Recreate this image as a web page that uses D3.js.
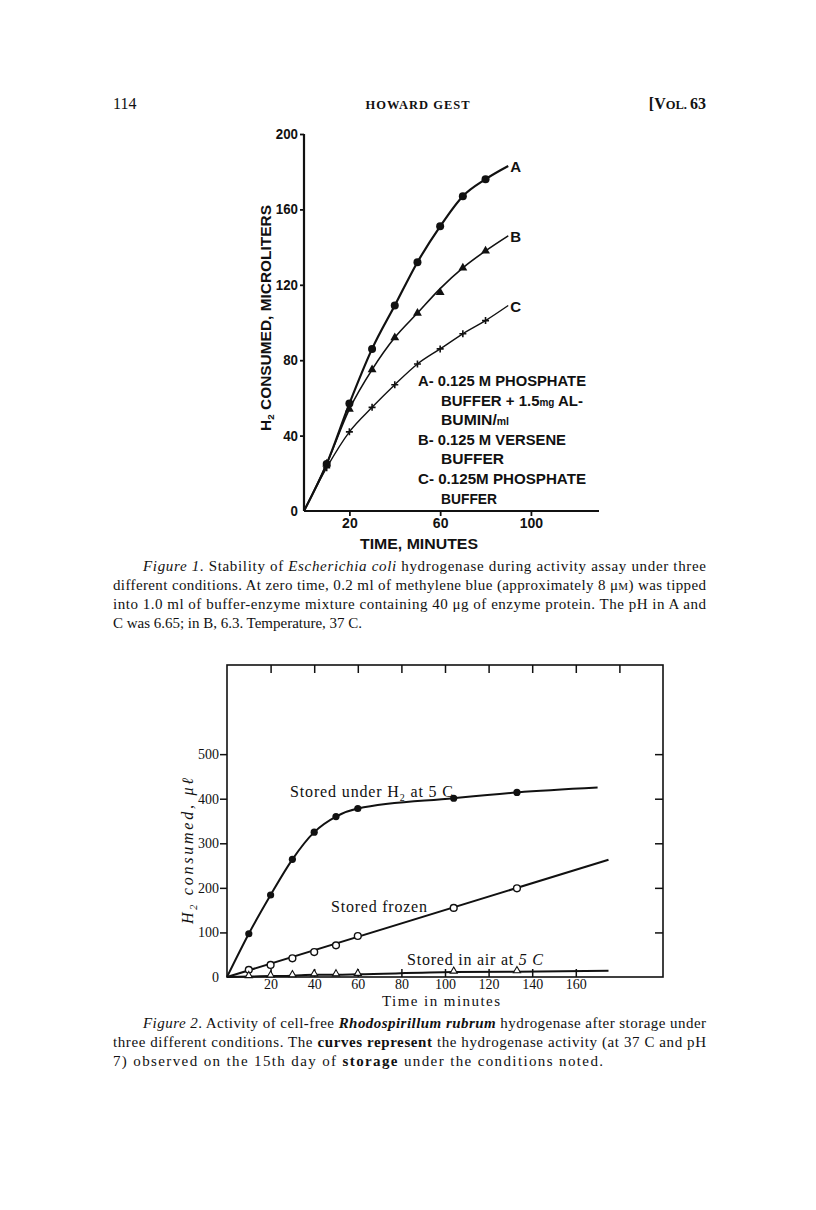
<!DOCTYPE html>
<html><head><meta charset="utf-8">
<script src="https://cdn.jsdelivr.net/npm/d3@7"></script>
<style>body{margin:0;background:#fff} svg{display:block}</style>
</head><body><svg id="c" width="816" height="1210"></svg>
<script>
// ---------- Figure 1 data ----------
const fig1Times = [10, 20, 30, 40, 50, 60, 70, 80];
const seriesA = [25, 57, 86, 109, 132, 151, 167, 176];
const seriesB = [25, 54, 75, 92, 105, 116, 129, 138];
const seriesC = [23, 42, 55, 67, 78, 86, 94, 101];
// hand-drawn curves (origin, through the points, to the letter label)
const curveTimes1 = [0, 10, 20, 30, 40, 50, 60, 70, 80, 90];
const curveA = [0, 25, 57, 86, 109, 132, 151, 167, 176, 183];
const curveB = [0, 25, 54, 75, 92, 105, 118, 129, 138, 146];
const curveC = [0, 23, 42, 55, 67, 78, 86, 94, 101, 109];
const fig1YTicks = [0, 40, 80, 120, 160, 200];
const fig1XTicks = [20, 60, 100];
const fig1Legend = [
  ["A- 0.125 M  PHOSPHATE"],
  ["BUFFER + 1.5", "mg", " AL-"],
  ["BUMIN/", "ml"],
  ["B- 0.125 M  VERSENE"],
  ["BUFFER"],
  ["C- 0.125M  PHOSPHATE"],
  ["BUFFER"]
];

// ---------- Figure 2 data ----------
const fig2Times = [10, 20, 30, 40, 50, 60, 104, 133];
const storedH2 = [97, 184, 264, 325, 360, 378, 401, 414];
const storedFrozen = [16, 27, 42, 56, 71, 92, 155, 199];
const storedAir = [1, 2, 3, 5, 5, 6, 11, 12];
const h2CurveTimes = [0, 10, 20, 30, 40, 50, 60, 104, 133, 170];
const h2CurveValues = [0, 97, 184, 264, 325, 360, 378, 401, 414, 425];
const frozenLineTimes = [0, 175];
const frozenLineValues = [0, 263];
const airCurveTimes = [0, 10, 20, 30, 40, 50, 60, 104, 133, 175];
const airCurveValues = [0, 1, 2, 3, 5, 5, 6, 11, 12, 14];
const fig2XTicks = [20, 40, 60, 80, 100, 120, 140, 160];
const fig2TopTicks = [20, 40, 60, 80, 100, 120, 140, 160, 180];
const fig2YTicks = [0, 100, 200, 300, 400, 500];

const svg = d3.select("#c");
const INK = "#111";
const SERIF = "'Liberation Serif', 'DejaVu Serif', serif";
const SANS = "'Liberation Sans', Arial, sans-serif";

// ---------- Page header ----------
svg.append("text").attr("x", 113).attr("y", 109).attr("font-family", SERIF)
  .attr("font-size", 16).attr("fill", INK).text("114");
svg.append("text").attr("x", 418).attr("y", 109).attr("text-anchor", "middle")
  .attr("font-family", SERIF).attr("font-size", 12.5).attr("font-weight", "bold")
  .attr("letter-spacing", 1).attr("fill", INK).text("HOWARD GEST");
const vol = svg.append("text").attr("x", 706).attr("y", 109).attr("text-anchor", "end")
  .attr("font-family", SERIF).attr("font-weight", "bold").attr("fill", INK);
vol.append("tspan").attr("font-size", 16).text("[V");
vol.append("tspan").attr("font-size", 12.5).text("OL. ");
vol.append("tspan").attr("font-size", 16).text("63");

// ---------- Figure 1 ----------
const x1 = d3.scaleLinear().domain([0, 130]).range([304, 599]);
const y1 = d3.scaleLinear().domain([0, 200]).range([511, 134]);
const g1 = svg.append("g");

const yAx1 = d3.axisLeft(y1).tickValues(fig1YTicks).tickSize(4).tickPadding(2).tickFormat(d3.format("d"));
const gy1 = g1.append("g").attr("transform", `translate(${x1(0)},0)`).call(yAx1);
const xAx1 = d3.axisBottom(x1).tickValues(fig1XTicks).tickSize(5).tickPadding(2).tickFormat(d3.format("d"));
const gx1 = g1.append("g").attr("transform", `translate(0,${y1(0)})`).call(xAx1);
[gy1, gx1].forEach(g => {
  g.select(".domain").attr("stroke", INK).attr("stroke-width", 2.2);
  g.selectAll(".tick line").attr("stroke", INK).attr("stroke-width", 1.8);
  g.selectAll(".tick text").attr("font-family", SANS).attr("font-weight", "bold")
    .attr("font-size", 14).attr("fill", INK);
});
gy1.selectAll(".tick text").attr("textLength", function(d) { return String(d).length * 7.4; })
  .attr("lengthAdjust", "spacingAndGlyphs");
gy1.select(".domain").attr("d", `M0,${y1(200)}V${y1(0)}`);
gx1.select(".domain").attr("d", `M${x1(0)},0H${x1(130)}`);
gy1.selectAll(".tick").filter(d => d === 0).select("line").remove();

// axis titles
const yt1 = g1.append("text").attr("transform", `translate(271,318) rotate(-90)`)
  .attr("text-anchor", "middle").attr("font-family", SANS).attr("font-weight", "bold")
  .attr("font-size", 14).attr("fill", INK).attr("textLength", 226).attr("lengthAdjust", "spacingAndGlyphs");
yt1.append("tspan").text("H");
yt1.append("tspan").attr("font-size", 9).attr("dy", 3).text("2");
yt1.append("tspan").attr("dy", -3).text("  CONSUMED,  MICROLITERS");
g1.append("text").attr("x", 419).attr("y", 549).attr("text-anchor", "middle")
  .attr("font-family", SANS).attr("font-weight", "bold").attr("font-size", 14.5)
  .attr("fill", INK).attr("textLength", 118).attr("lengthAdjust", "spacingAndGlyphs")
  .text("TIME, MINUTES");

// curves
const line1 = d3.line().x(d => x1(d[0])).y(d => y1(d[1])).curve(d3.curveMonotoneX);
[[curveA, 2.2], [curveB, 1.6], [curveC, 1.4]].forEach(([vals, w]) => {
  g1.append("path").datum(curveTimes1.map((t, i) => [t, vals[i]]))
    .attr("d", line1).attr("fill", "none").attr("stroke", INK).attr("stroke-width", w);
});
// markers
g1.selectAll(".ma").data(fig1Times.map((t, i) => [t, seriesA[i]])).join("circle")
  .attr("cx", d => x1(d[0])).attr("cy", d => y1(d[1])).attr("r", 4).attr("fill", INK);
const tri = d3.symbol().type(d3.symbolTriangle).size(34);
g1.selectAll(".mb").data(fig1Times.map((t, i) => [t, seriesB[i]])).join("path")
  .attr("d", tri).attr("transform", d => `translate(${x1(d[0])},${y1(d[1])})`).attr("fill", INK);
g1.selectAll(".mc").data(fig1Times.map((t, i) => [t, seriesC[i]])).join("path")
  .attr("d", "M-3.5,0H3.5M0,-3.5V3.5").attr("transform", d => `translate(${x1(d[0])},${y1(d[1])})`)
  .attr("stroke", INK).attr("stroke-width", 1.6);
// end labels
[["A", curveA], ["B", curveB], ["C", curveC]].forEach(([lab, vals]) => {
  const n = vals.length - 1;
  g1.append("text").attr("x", x1(curveTimes1[n]) + 2).attr("y", y1(vals[n]) + 6)
    .attr("font-family", SANS).attr("font-weight", "bold").attr("font-size", 15)
    .attr("fill", INK).text(lab);
});
// legend text
const legX = [418, 441, 441, 418, 441, 418, 441];
const legY = [386, 406, 425, 445, 464, 484, 504];
const legLen = [168, 142, 68, 148, 63, 168, 56];
fig1Legend.forEach((parts, i) => {
  const t = g1.append("text").attr("x", legX[i]).attr("y", legY[i]).attr("font-family", SANS)
    .attr("font-weight", "bold").attr("font-size", 15).attr("fill", INK)
    .attr("textLength", legLen[i]).attr("lengthAdjust", "spacingAndGlyphs");
  parts.forEach((p, j) => {
    const s = t.append("tspan").text(p);
    if ((parts.length > 1) && (j === 1)) s.attr("font-size", 10);
  });
});

// ---------- captions ----------
function captionLine(y, x, len, parts) {
  const t = svg.append("text").attr("x", x).attr("y", y).attr("font-family", SERIF)
    .attr("font-size", 15).attr("fill", INK);
  if (len) t.attr("textLength", len).attr("lengthAdjust", "spacing");
  parts.forEach(p => {
    const s = t.append("tspan").text(p.t);
    if (p.i) s.attr("font-style", "italic");
    if (p.b) s.attr("font-weight", "bold");
    if (p.sc) s.attr("font-size", 11);
  });
}
captionLine(571, 143, 563, [{t: "Figure 1", i: 1}, {t: ". Stability of "}, {t: "Escherichia coli", i: 1},
  {t: " hydrogenase during activity assay under three"}]);
captionLine(590, 113, 593, [{t: "different conditions. At zero time, 0.2 ml of methylene blue (approximately 8 μ"},
  {t: "M", sc: 1}, {t: ") was tipped"}]);
captionLine(609, 113, 593, [{t: "into 1.0 ml of buffer-enzyme mixture containing 40 μg of enzyme protein. The pH in A and"}]);
captionLine(628, 113, 249, [{t: "C was 6.65; in B, 6.3. Temperature, 37 C."}]);

// ---------- Figure 2 ----------
const x2 = d3.scaleLinear().domain([0, 200]).range([227, 663]);
const y2 = d3.scaleLinear().domain([0, 700]).range([977, 665]);
const g2 = svg.append("g");
g2.append("rect").attr("x", x2(0)).attr("y", y2(700)).attr("width", x2(200) - x2(0))
  .attr("height", y2(0) - y2(700)).attr("fill", "none").attr("stroke", INK).attr("stroke-width", 1.6);

const styleAx2 = g => {
  g.select(".domain").remove();
  g.selectAll(".tick line").attr("stroke", INK).attr("stroke-width", 1.5);
  g.selectAll(".tick text").attr("font-family", SERIF).attr("font-size", 14).attr("fill", INK);
};
const gy2 = g2.append("g").attr("transform", `translate(${x2(0)},0)`)
  .call(d3.axisLeft(y2).tickValues(fig2YTicks).tickSize(7).tickPadding(1).tickFormat(d3.format("d")));
styleAx2(gy2);
gy2.selectAll(".tick").filter(d => d === 0).select("line").remove();
const gyr2 = g2.append("g").attr("transform", `translate(${x2(200)},0)`)
  .call(d3.axisLeft(y2).tickValues(fig2YTicks.filter(d => d > 0)).tickSize(8).tickFormat(""));
styleAx2(gyr2);
const gx2 = g2.append("g").attr("transform", `translate(0,${y2(0)})`)
  .call(d3.axisTop(x2).tickValues(fig2XTicks).tickSize(8).tickFormat(""));
styleAx2(gx2);
const gxl2 = g2.append("g").attr("transform", `translate(0,${y2(0)})`)
  .call(d3.axisBottom(x2).tickValues(fig2XTicks).tickSize(0).tickPadding(2).tickFormat(d3.format("d")));
styleAx2(gxl2);
const gxt2 = g2.append("g").attr("transform", `translate(0,${y2(700)})`)
  .call(d3.axisBottom(x2).tickValues(fig2TopTicks).tickSize(8).tickFormat(""));
styleAx2(gxt2);

// titles
const yt2 = g2.append("text").attr("transform", `translate(193,851) rotate(-90)`)
  .attr("text-anchor", "middle").attr("font-family", SERIF).attr("font-style", "italic")
  .attr("font-size", 16).attr("fill", INK).attr("textLength", 146).attr("lengthAdjust", "spacing");
yt2.append("tspan").text("H");
yt2.append("tspan").attr("font-size", 10).attr("dy", 4).text("2");
yt2.append("tspan").attr("dy", -4).text("  consumed, μℓ");
g2.append("text").attr("x", 441).attr("y", 1006).attr("text-anchor", "middle")
  .attr("font-family", SERIF).attr("font-size", 15).attr("fill", INK)
  .attr("textLength", 118).attr("lengthAdjust", "spacing").text("Time in minutes");

// curves
const line2 = d3.line().x(d => x2(d[0])).y(d => y2(d[1])).curve(d3.curveMonotoneX);
const drawCurve = (ts, vs) => g2.append("path").datum(ts.map((t, i) => [t, vs[i]]))
  .attr("d", line2).attr("fill", "none").attr("stroke", INK).attr("stroke-width", 2);
drawCurve(h2CurveTimes, h2CurveValues);
drawCurve(frozenLineTimes, frozenLineValues);
drawCurve(airCurveTimes, airCurveValues);

g2.selectAll(".h2").data(fig2Times.map((t, i) => [t, storedH2[i]])).join("circle")
  .attr("cx", d => x2(d[0])).attr("cy", d => y2(d[1])).attr("r", 3.6).attr("fill", INK);
g2.selectAll(".fz").data(fig2Times.map((t, i) => [t, storedFrozen[i]])).join("circle")
  .attr("cx", d => x2(d[0])).attr("cy", d => y2(d[1])).attr("r", 3.4)
  .attr("fill", "#fff").attr("stroke", INK).attr("stroke-width", 1.4);
const tri2 = d3.symbol().type(d3.symbolTriangle).size(22);
g2.selectAll(".air").data(fig2Times.map((t, i) => [t, storedAir[i]])).join("path")
  .attr("d", tri2).attr("transform", d => `translate(${x2(d[0])},${y2(d[1]) - 1})`)
  .attr("fill", "#fff").attr("stroke", INK).attr("stroke-width", 1.1);

// curve labels
const lab2 = (x, y, len, parts) => {
  const t = g2.append("text").attr("x", x).attr("y", y).attr("font-family", SERIF)
    .attr("font-size", 16).attr("fill", INK).attr("textLength", len).attr("lengthAdjust", "spacing");
  parts.forEach(p => {
    const s = t.append("tspan").text(p.t);
    if (p.sub) s.attr("font-size", 10).attr("dy", 4);
    if (p.up) s.attr("dy", -4);
    if (p.i) s.attr("font-style", "italic");
  });
};
lab2(290, 797, 163, [{t: "Stored under H"}, {t: "2", sub: 1}, {t: " at 5 C", up: 1}]);
lab2(331, 912, 96, [{t: "Stored frozen"}]);
lab2(407, 965, 136, [{t: "Stored in air at "}, {t: "5 C", i: 1}]);

// ---------- Figure 2 caption ----------
captionLine(1028, 143, 563, [{t: "Figure 2", i: 1}, {t: ". Activity of cell-free "},
  {t: "Rhodospirillum rubrum", i: 1, b: 1}, {t: " hydrogenase after storage under"}]);
captionLine(1047, 113, 593, [{t: "three different conditions. The "}, {t: "curves represent", b: 1},
  {t: " the hydrogenase activity (at 37 C and pH"}]);
captionLine(1066, 113, 490, [{t: "7) observed on the 15th day of "}, {t: "storage", b: 1},
  {t: " under the conditions noted."}]);
</script></body></html>
